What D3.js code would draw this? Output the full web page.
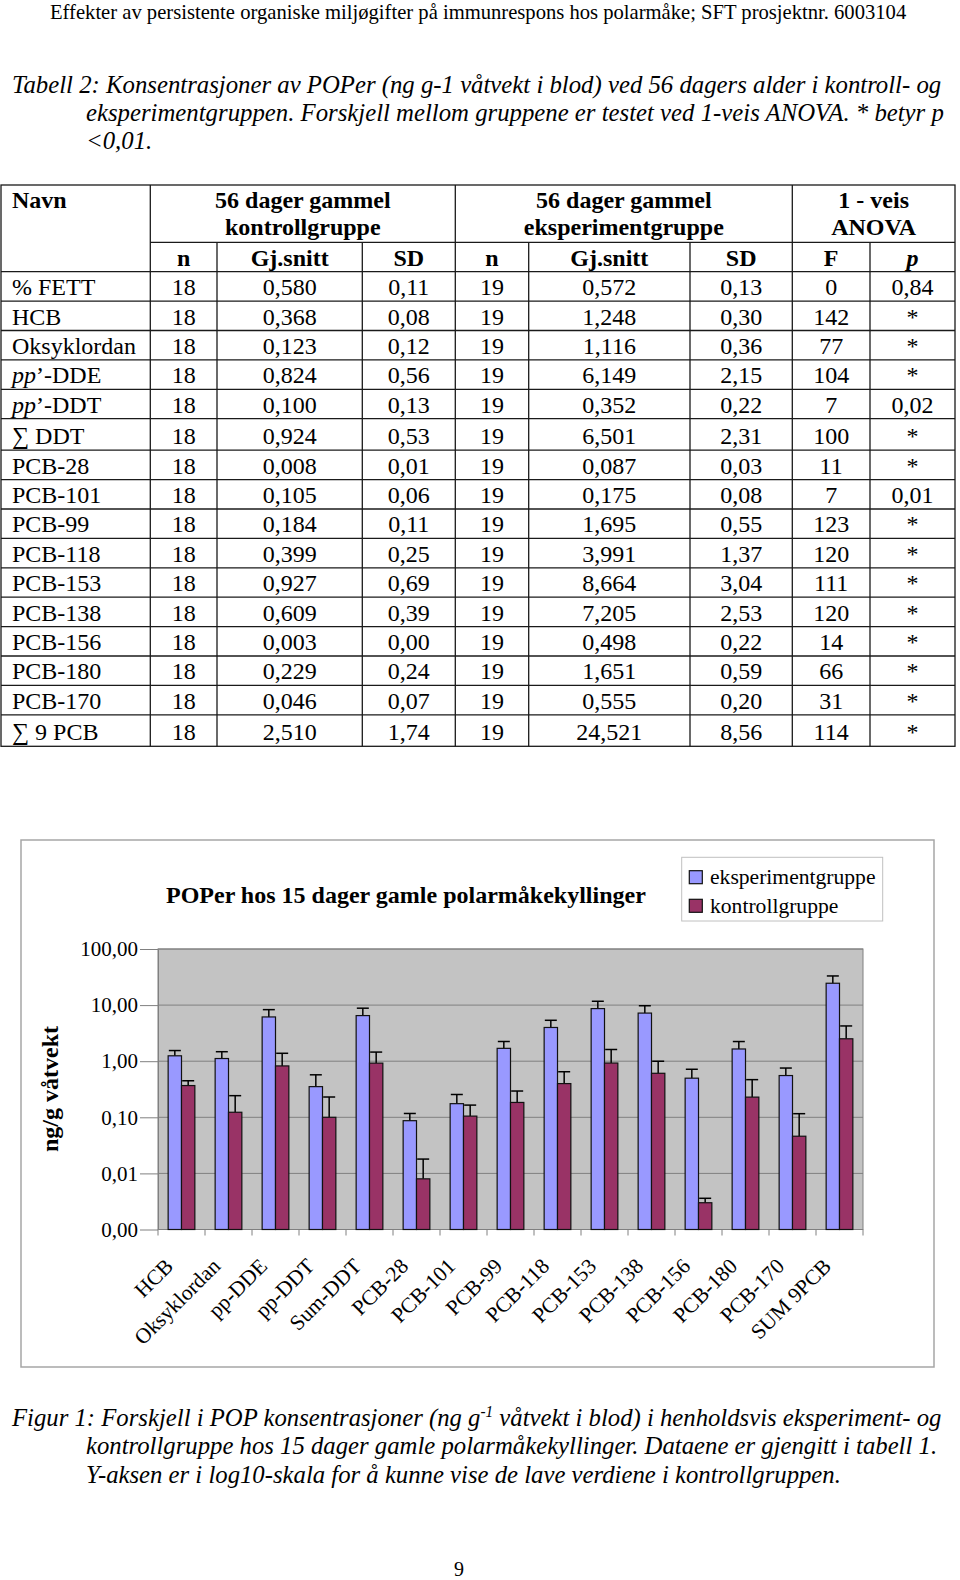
<!DOCTYPE html>
<html>
<head>
<meta charset="utf-8">
<script src="https://cdn.jsdelivr.net/npm/d3@7"></script>
<style>
  body { margin: 0; background: #fff; }
  text { font-family: "Liberation Serif", "Times New Roman", serif; fill: #000; }
</style>
</head>
<body>
<script>
// ---------- Table data (Tabell 2) ----------
const tableNames = ["% FETT","HCB","Oksyklordan","pp’-DDE","pp’-DDT","∑ DDT","PCB-28","PCB-101","PCB-99","PCB-118","PCB-153","PCB-138","PCB-156","PCB-180","PCB-170","∑ 9 PCB"];
const ctrlN    = ["18","18","18","18","18","18","18","18","18","18","18","18","18","18","18","18"];
const ctrlMean = ["0,580","0,368","0,123","0,824","0,100","0,924","0,008","0,105","0,184","0,399","0,927","0,609","0,003","0,229","0,046","2,510"];
const ctrlSDt  = ["0,11","0,08","0,12","0,56","0,13","0,53","0,01","0,06","0,11","0,25","0,69","0,39","0,00","0,24","0,07","1,74"];
const expN     = ["19","19","19","19","19","19","19","19","19","19","19","19","19","19","19","19"];
const expMeanT = ["0,572","1,248","1,116","6,149","0,352","6,501","0,087","0,175","1,695","3,991","8,664","7,205","0,498","1,651","0,555","24,521"];
const expSDt   = ["0,13","0,30","0,36","2,15","0,22","2,31","0,03","0,08","0,55","1,37","3,04","2,53","0,22","0,59","0,20","8,56"];
const anovaF   = ["0","142","77","104","7","100","11","7","123","120","111","120","14","66","31","114"];
const anovaP   = ["0,84","*","*","*","0,02","*","*","0,01","*","*","*","*","*","*","*","*"];

// ---------- Chart data (Figur 1) ----------
const categories = ["HCB","Oksyklordan","pp-DDE","pp-DDT","Sum-DDT","PCB-28","PCB-101","PCB-99","PCB-118","PCB-153","PCB-138","PCB-156","PCB-180","PCB-170","SUM 9PCB"];
const seriesNames = ["eksperimentgruppe","kontrollgruppe"];
const expMeans = [1.248,1.116,6.149,0.352,6.501,0.087,0.175,1.695,3.991,8.664,7.205,0.498,1.651,0.555,24.521];
const expSDs   = [0.30,0.36,2.15,0.22,2.31,0.03,0.08,0.55,1.37,3.04,2.53,0.22,0.59,0.20,8.56];
const ctrlMeans = [0.368,0.123,0.824,0.100,0.924,0.008,0.105,0.184,0.399,0.927,0.609,0.003,0.229,0.046,2.510];
const ctrlSDs   = [0.08,0.12,0.56,0.13,0.53,0.01,0.06,0.11,0.25,0.69,0.39,0.0006,0.24,0.07,1.74];
const yTickValues = [0.001,0.01,0.1,1,10,100];

const headerText = "Effekter av persistente organiske miljøgifter på immunrespons hos polarmåke; SFT prosjektnr. 6003104";
const tableCaption = [
  "Tabell 2: Konsentrasjoner av POPer (ng g-1 våtvekt i blod) ved 56 dagers alder i kontroll- og",
  "eksperimentgruppen. Forskjell mellom gruppene er testet ved 1-veis ANOVA. * betyr p",
  "<0,01."
];
const chartTitle = "POPer hos 15 dager gamle polarmåkekyllinger";
const yTitle = "ng/g våtvekt";

const svg = d3.select("body").append("svg").attr("width", 960).attr("height", 1580);
svg.append("rect").attr("width", 960).attr("height", 1580).attr("fill", "#fff");

function hfit(sel, x0, target) {
  const w = sel.node().getComputedTextLength();
  const s = target / w;
  sel.attr("transform", `translate(${x0},0) scale(${s},1) translate(${-x0},0)`);
  return s;
}
function hscale(sel, x0, s) {
  sel.attr("transform", `translate(${x0},0) scale(${s},1) translate(${-x0},0)`);
}

// ---------- Header ----------
const hdr = svg.append("text").attr("x", 50).attr("y", 19).style("font-size", "20px").text(headerText);
hfit(hdr, 50, 857);

// ---------- Table caption ----------
const capPos = [[12, 93], [86, 121], [86, 149]];
let capScale = 1;
tableCaption.forEach((t, i) => {
  const el = svg.append("text").attr("x", capPos[i][0]).attr("y", capPos[i][1])
    .style("font-size", "26px").style("font-style", "italic").text(t);
  if (i === 0) capScale = hfit(el, capPos[i][0], 930);
  else hscale(el, capPos[i][0], capScale);
});

// ---------- Table ----------
const colX = [1, 150.3, 217, 362.3, 455.3, 528.7, 690, 792.3, 870, 955];
const tTop = 185, h1 = 242.3, h2 = 271.7;
const rowH = tableNames.map(n => n.startsWith("∑") ? 31.5 : 29.4);
const rowTops = [];
{ let yy = h2; rowH.forEach(h => { rowTops.push(yy); yy += h; }); }
const tBottom = rowTops[rowTops.length - 1] + rowH[rowH.length - 1];
const tg = svg.append("g");
const lineStyle = s => s.attr("stroke", "#1a1a1a").attr("stroke-width", 1.3);
tg.append("rect").attr("x", colX[0]).attr("y", tTop).attr("width", colX[9] - colX[0]).attr("height", tBottom - tTop)
  .attr("fill", "none").call(lineStyle);
[colX[1], colX[4], colX[7]].forEach(cx => tg.append("line").attr("x1", cx).attr("x2", cx).attr("y1", tTop).attr("y2", tBottom).call(lineStyle));
[colX[2], colX[3], colX[5], colX[6], colX[8]].forEach(cx => tg.append("line").attr("x1", cx).attr("x2", cx).attr("y1", h1).attr("y2", tBottom).call(lineStyle));
tg.append("line").attr("x1", colX[1]).attr("x2", colX[9]).attr("y1", h1).attr("y2", h1).call(lineStyle);
[h2, ...rowTops.slice(1)].forEach(yy => tg.append("line").attr("x1", colX[0]).attr("x2", colX[9]).attr("y1", yy).attr("y2", yy).call(lineStyle));

const fs = "24px";
function ctext(x, y, t, bold, italic) {
  return tg.append("text").attr("x", x).attr("y", y).attr("text-anchor", "middle")
    .style("font-size", fs).style("font-weight", bold ? "bold" : "normal").style("font-style", italic ? "italic" : "normal").text(t);
}
const mid = (a, b) => (colX[a] + colX[b]) / 2;
tg.append("text").attr("x", 12).attr("y", 208).style("font-size", fs).style("font-weight", "bold").text("Navn");
ctext(mid(1, 4), 208, "56 dager gammel", true);
ctext(mid(1, 4), 235, "kontrollgruppe", true);
ctext(mid(4, 7), 208, "56 dager gammel", true);
ctext(mid(4, 7), 235, "eksperimentgruppe", true);
ctext(mid(7, 9), 208, "1 - veis", true);
ctext(mid(7, 9), 235, "ANOVA", true);
const sub = ["n", "Gj.snitt", "SD", "n", "Gj.snitt", "SD", "F", "p"];
sub.forEach((t, i) => ctext(mid(i + 1, i + 2), 266, t, true, t === "p"));

const cols = [ctrlN, ctrlMean, ctrlSDt, expN, expMeanT, expSDt, anovaF, anovaP];
tableNames.forEach((name, r) => {
  const by = rowTops[r] + rowH[r] - 6;
  const nt = tg.append("text").attr("x", 12).attr("y", by).style("font-size", fs);
  if (name.startsWith("pp’")) {
    nt.append("tspan").style("font-style", "italic").text("pp");
    nt.append("tspan").text(name.slice(2));
  } else nt.text(name);
  cols.forEach((c, ci) => ctext(mid(ci + 1, ci + 2), by, c[r], false, false));
});

// ---------- Chart ----------
const chart = svg.append("g");
chart.append("rect").attr("x", 21).attr("y", 840).attr("width", 913).attr("height", 527)
  .attr("fill", "#fff").attr("stroke", "#a6a6a6").attr("stroke-width", 1.5);

const plotL = 158, plotR = 863, plotT = 949, plotB = 1229.5;
const x = d3.scaleBand().domain(categories).range([plotL, plotR]);
const xs = d3.scaleBand().domain(seriesNames).range([0, x.bandwidth()]).paddingOuter(0.76);
const y = d3.scaleLog().domain([0.001, 100]).range([plotB, plotT]);
const fmt = v => d3.format(".2f")(v).replace(".", ",");

chart.append("rect").attr("x", plotL).attr("y", plotT).attr("width", plotR - plotL).attr("height", plotB - plotT)
  .attr("fill", "#c3c3c3").attr("stroke", "#808080").attr("stroke-width", 1);
chart.append("g").selectAll("line").data(yTickValues).join("line")
  .attr("x1", plotL).attr("x2", plotR).attr("y1", d => y(d)).attr("y2", d => y(d))
  .attr("stroke", "#808080").attr("stroke-width", 1);

const yAxis = chart.append("g").attr("transform", `translate(${plotL},0)`)
  .call(d3.axisLeft(y).tickValues(yTickValues).tickFormat(fmt).tickSize(18).tickSizeOuter(0).tickPadding(2));
yAxis.select(".domain").attr("stroke", "#808080");
yAxis.selectAll(".tick line").attr("stroke", "#808080");
yAxis.selectAll(".tick text").style("font-size", "21px").style("font-family", "Liberation Serif, serif").attr("fill", "#000");

// x axis
chart.append("line").attr("x1", plotL).attr("x2", plotR).attr("y1", plotB).attr("y2", plotB).attr("stroke", "#808080");
chart.append("g").selectAll("line").data([...categories.map(c => x(c)), plotR]).join("line")
  .attr("x1", d => d).attr("x2", d => d).attr("y1", plotB).attr("y2", plotB + 6).attr("stroke", "#808080");
chart.append("g").selectAll("text").data(categories).join("text")
  .attr("transform", c => `translate(${x(c) + x.bandwidth() / 2 - 7},${plotB + 38}) rotate(-45)`)
  .attr("text-anchor", "end").style("font-size", "21.5px").text(c => c);

// bars
const colors = { "eksperimentgruppe": "#9999ff", "kontrollgruppe": "#993366" };
const rows = categories.map((c, i) => ({ c, s: [
  { k: "eksperimentgruppe", m: expMeans[i], sd: expSDs[i] },
  { k: "kontrollgruppe", m: ctrlMeans[i], sd: ctrlSDs[i] } ] }));
const gb = chart.append("g");
rows.forEach(r => {
  r.s.forEach(s => {
    const bx = x(r.c) + xs(s.k), bw = xs.bandwidth(), cx = bx + bw / 2;
    gb.append("line").attr("x1", cx).attr("x2", cx).attr("y1", y(s.m)).attr("y2", y(s.m + s.sd))
      .attr("stroke", "#000").attr("stroke-width", 1.5);
    gb.append("line").attr("x1", cx - 6).attr("x2", cx + 6).attr("y1", y(s.m + s.sd)).attr("y2", y(s.m + s.sd))
      .attr("stroke", "#000").attr("stroke-width", 1.5);
    gb.append("rect").attr("x", bx).attr("y", y(s.m)).attr("width", bw).attr("height", plotB - y(s.m))
      .attr("fill", colors[s.k]).attr("stroke", "#111").attr("stroke-width", 1.2);
  });
});

// y title
chart.append("text").attr("transform", "translate(58,1089) rotate(-90)").attr("text-anchor", "middle")
  .style("font-size", "24px").style("font-weight", "bold").text(yTitle);

// title
const ttl = chart.append("text").attr("x", 166).attr("y", 903).style("font-size", "24px").style("font-weight", "bold").text(chartTitle);
hfit(ttl, 166, 480);

// legend
chart.append("rect").attr("x", 681.7).attr("y", 857.3).attr("width", 201).attr("height", 63.7)
  .attr("fill", "#fff").attr("stroke", "#c0c0c0").attr("stroke-width", 1);
seriesNames.forEach((s, i) => {
  chart.append("rect").attr("x", 689.3).attr("y", 870.7 + i * 28.6).attr("width", 13).attr("height", 13)
    .attr("fill", colors[s]).attr("stroke", "#111").attr("stroke-width", 1.2);
  chart.append("text").attr("x", 710).attr("y", 884 + i * 28.6).style("font-size", "21.6px").text(s);
});

// ---------- Figure caption ----------
const figPos = [[12, 1426], [86, 1454], [86, 1483]];
const f1 = svg.append("text").attr("x", 12).attr("y", 1426).style("font-size", "26px").style("font-style", "italic");
f1.append("tspan").text("Figur 1: Forskjell i POP konsentrasjoner (ng g");
f1.append("tspan").attr("dy", -9).style("font-size", "16px").text("-1");
f1.append("tspan").attr("dy", 9).text(" våtvekt i blod) i henholdsvis eksperiment- og");
const figScale = hfit(f1, 12, 930);
const figLines = ["kontrollgruppe hos 15 dager gamle polarmåkekyllinger. Dataene er gjengitt i tabell 1.",
  "Y-aksen er i log10-skala for å kunne vise de lave verdiene i kontrollgruppen."];
figLines.forEach((t, i) => {
  const el = svg.append("text").attr("x", 86).attr("y", figPos[i + 1][1]).style("font-size", "26px").style("font-style", "italic").text(t);
  hscale(el, 86, figScale);
});

svg.append("text").attr("x", 459).attr("y", 1576).attr("text-anchor", "middle").style("font-size", "20px").text("9");
</script>
</body>
</html>
